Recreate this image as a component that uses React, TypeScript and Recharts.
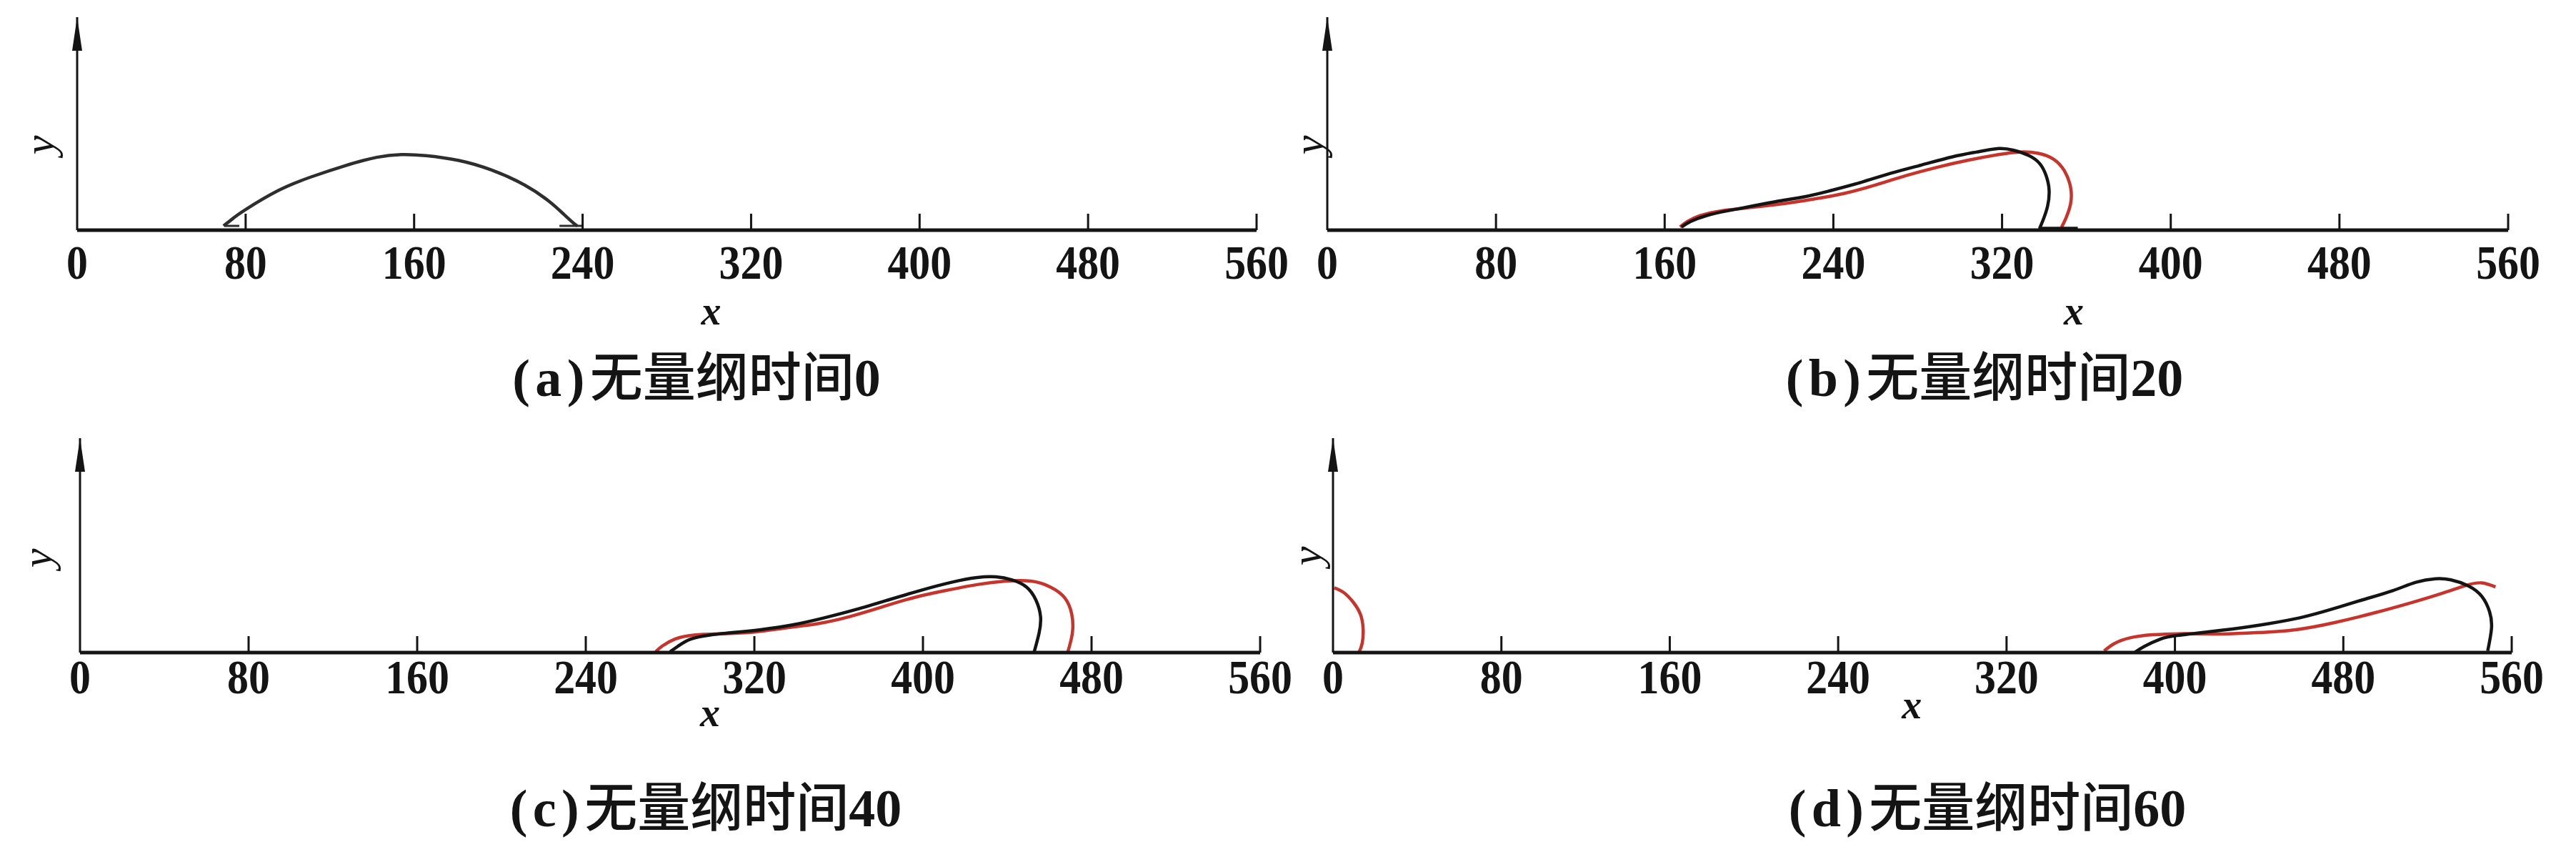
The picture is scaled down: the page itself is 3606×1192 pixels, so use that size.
import React from 'react'
import { LineChart, Line, XAxis, YAxis, ReferenceDot } from 'recharts'

type P = [number, number]

const X_TICKS = [0, 80, 160, 240, 320, 400, 480, 560]
const Y_MAX = 100
const TAGS = ['(a)', '(b)', '(c)', '(d)']
const TIMES = ['0', '20', '40', '60']
const TITLE_WORD = '无量纲时间'

// (a) t = 0 : initial cap
const arcA: P[] = [
  [69.5, 2], [74, 5.5], [79.9, 9.6], [95.5, 18.6], [111.1, 25], [126.7, 30.1], [142.2, 34.2],
  [153.9, 35.5], [165.6, 35], [181.2, 32.7], [196.8, 28.2], [212.4, 21.2], [224.1, 13.5],
  [231, 7.5], [235.8, 3.2], [237.5, 2],
]
const footA1: P[] = [[70, 2], [77, 2]]
const footA2: P[] = [[229, 2], [240, 2]]

// (b) t = 20
const blackB: P[] = [
  [168, 1.5], [172.4, 4.1], [179.7, 6.8], [189.9, 9.1], [201.6, 11.3], [213.2, 13.5], [226.4, 15.7],
  [238, 18.4], [252.6, 22.3], [267.2, 26.7], [281.8, 30.6], [296.4, 34.4], [308, 36.7], [318.3, 38.3],
  [325.5, 37.5], [332.8, 35], [338, 31.1], [340.9, 25.6], [342.3, 19], [341.6, 11.3], [339.4, 4.6],
  [338, 1.3],
]
const redB: P[] = [
  [167.3, 1.5], [170.9, 4.1], [176.8, 6.8], [187, 9.1], [201.6, 10.7], [216.2, 12.4], [230.7, 14.6],
  [245.3, 17.3], [259.9, 21.2], [274.5, 25.6], [289.1, 29.5], [303.7, 32.8], [318.3, 35.5],
  [328.5, 36.7], [337.2, 36.1], [344.5, 33.3], [349.6, 27.8], [352.5, 20.1], [352.5, 12.4],
  [350.3, 5.7], [348.2, 1.3],
]
const barB: P[] = [[337.2, 0.6], [355.9, 0.6]]

// (c) t = 40
const blackC: P[] = [
  [280, 0.4], [283.8, 3], [289.8, 6.3], [298.9, 8.2], [309.4, 9.3], [323, 10.7], [338.1, 12.9],
  [353.2, 16.2], [368.3, 20.1], [383.4, 24.5], [398.5, 28.9], [413.6, 32.8], [425.7, 35],
  [434.7, 35.3], [442.3, 33.9], [449.1, 30.6], [453.6, 24.5], [455.8, 16.8], [455.1, 9.1],
  [452.8, 0.4],
]
const redC: P[] = [
  [273.2, 0.4], [276.2, 3], [282.3, 6.3], [291.3, 8.2], [304.9, 8.8], [320, 9.6], [335.1, 11.5],
  [350.2, 13.5], [365.3, 16.8], [380.4, 21.2], [395.5, 25.6], [410.6, 28.9], [425.7, 31.7],
  [439.2, 33.3], [451.3, 33.3], [460.4, 30.6], [467.2, 25.6], [470.6, 17.9], [470.9, 9.1],
  [468.7, 0.2],
]

// (d) t = 60
const blackD: P[] = [
  [381.1, 0.2], [385.7, 3], [393.1, 6.3], [400.4, 7.9], [415.2, 9.6], [429.9, 11.3], [444.6, 13.5],
  [459.3, 16.2], [474.1, 20.1], [488.8, 24.5], [503.5, 28.9], [514.5, 32.8], [523.8, 34.4],
  [531.1, 33.9], [539.4, 31.1], [545.8, 26.2], [549.5, 19], [550.4, 11.3], [548.6, 0.8],
]
const redD: P[] = [
  [366.4, 0.8], [371, 4.1], [378.3, 6.8], [389.4, 8.3], [404.1, 8.8], [422.5, 8.7], [439.1, 9.3],
  [457.5, 10.7], [475.9, 14], [494.3, 18.4], [512.7, 23.4], [527.4, 27.8], [538.5, 31.4],
  [545.8, 32.5], [552.3, 30.6],
]
const redDWrap: P[] = [
  [0.6, 30.2], [5.1, 28], [9.6, 23.5], [13, 17.9], [14.3, 11.2], [13.9, 4.5], [12.4, 0.2],
]

const BLACK = '#141414'
const RED = '#c8342c'
const GREY = '#2e2e2e'

const pts = (arr: P[]) => arr.map(([x, y]) => ({ x, y }))

type Series = { data: P[]; color: string; width: number; curve: 'natural' | 'linear' }

const FULL_W = 3606
const H = 596
const XH = 100
const YW = 60
const SERIF = "'Liberation Serif', 'Times New Roman', serif"
const CJK = "'Noto Sans CJK SC', sans-serif"

const PANELS = [
  {
    top: 0, plot: { l: 108, r: 1759, t: 24, b: 322 },
    tickGap: 68, xLab: { at: 301, dy: 132 }, yLab: { dx: 53, at: 40 }, title: { cx: 975, cy: 522 },
    series: [
      { data: arcA, color: GREY, width: 4.5, curve: 'natural' },
      { data: footA1, color: GREY, width: 3, curve: 'linear' },
      { data: footA2, color: GREY, width: 3, curve: 'linear' },
    ] as Series[],
  },
  {
    top: 0, plot: { l: 1858, r: 3511, t: 24, b: 322 },
    tickGap: 68, xLab: { at: 354, dy: 132 }, yLab: { dx: 26, at: 40 }, title: { cx: 2778, cy: 522 },
    series: [
      { data: redB, color: RED, width: 4.5, curve: 'natural' },
      { data: blackB, color: BLACK, width: 4.5, curve: 'natural' },
      { data: barB, color: BLACK, width: 6, curve: 'linear' },
    ] as Series[],
  },
  {
    top: 596, plot: { l: 112, r: 1764, t: 613, b: 913 },
    tickGap: 57, xLab: { at: 299, dy: 103 }, yLab: { dx: 60, at: 44 }, title: { cx: 988, cy: 1124 },
    series: [
      { data: redC, color: RED, width: 4.5, curve: 'natural' },
      { data: blackC, color: BLACK, width: 4.5, curve: 'natural' },
    ] as Series[],
  },
  {
    top: 596, plot: { l: 1866, r: 3516, t: 613, b: 913 },
    tickGap: 57, xLab: { at: 275, dy: 92 }, yLab: { dx: 37, at: 45 }, title: { cx: 2782, cy: 1124 },
    series: [
      { data: redD, color: RED, width: 4.5, curve: 'natural' },
      { data: redDWrap, color: RED, width: 4.5, curve: 'natural' },
      { data: blackD, color: BLACK, width: 4.5, curve: 'natural' },
    ] as Series[],
  },
]

function XTick({ x, y, payload, gap }: any) {
  return (
    <g>
      {payload.value !== 0 && (
        <line x1={x} x2={x} y1={y - 23} y2={y} stroke={BLACK} strokeWidth={3} />
      )}
      <text transform={`translate(${x} ${y + gap}) scale(0.88 1)`} textAnchor="middle" fontFamily={SERIF}
        fontWeight="bold" fontSize={68} fill={BLACK}>
        {payload.value}
      </text>
    </g>
  )
}

function Arrow({ cx, cy }: any) {
  if (cx == null || cy == null) return null
  return <polygon points={`${cx},${cy} ${cx - 7},${cy + 47} ${cx + 7},${cy + 47}`} fill={BLACK} />
}

function YName({ cx, cy, dx }: any) {
  if (cx == null || cy == null) return null
  const x = cx - dx
  return (
    <text x={x} y={cy} transform={`rotate(-90 ${x} ${cy})`} textAnchor="middle" dominantBaseline="central"
      fontFamily={SERIF} fontStyle="italic" fontSize={60} fill={BLACK}>y</text>
  )
}

function XName({ viewBox, at, dy }: any) {
  if (!viewBox) return null
  const x = viewBox.x + (at / 560) * viewBox.width
  return (
    <text x={x} y={viewBox.y + dy} textAnchor="middle" fontFamily={SERIF} fontStyle="italic" fontWeight="bold"
      fontSize={56} fill={BLACK}>x</text>
  )
}

function Panel({ p, i }: { p: (typeof PANELS)[number]; i: number }) {
  const margin = {
    top: p.plot.t - p.top,
    left: p.plot.l - YW,
    right: FULL_W - p.plot.r,
    bottom: H - (p.plot.b - p.top) - XH,
  }
  return (
    <div style={{ position: 'absolute', left: 0, top: p.top, width: FULL_W, height: H }}>
      <LineChart width={FULL_W} height={H} margin={margin}>
        <XAxis
          type="number" dataKey="x" domain={[0, 560]} ticks={X_TICKS} interval={0}
          height={XH} tickSize={0} tickMargin={0} tickLine={false}
          axisLine={{ stroke: BLACK, strokeWidth: 5 }}
          tick={<XTick gap={p.tickGap} />}
          label={{ content: (props: any) => <XName {...props} at={p.xLab.at} dy={p.xLab.dy} /> }}
          allowDataOverflow
        />
        <YAxis
          type="number" dataKey="y" domain={[0, Y_MAX]} width={YW}
          tick={false} tickLine={false} axisLine={{ stroke: BLACK, strokeWidth: 3 }} allowDataOverflow
        />
        {p.series.map((s, k) => (
          <Line
            key={k} data={pts(s.data)} dataKey="y" type={s.curve} stroke={s.color} strokeWidth={s.width}
            dot={false} activeDot={false} isAnimationActive={false} strokeLinecap="butt"
          />
        ))}
        <ReferenceDot x={0} y={Y_MAX} r={1} ifOverflow="visible" shape={(props: any) => <Arrow {...props} />} />
        <ReferenceDot x={0} y={p.yLab.at} r={1} ifOverflow="visible"
          shape={(props: any) => <YName {...props} dx={p.yLab.dx} />} />
      </LineChart>
      <div
        style={{
          position: 'absolute', left: p.title.cx, top: p.title.cy - p.top,
          transform: 'translate(-50%, -50%)', whiteSpace: 'nowrap', fontSize: 74, lineHeight: '74px',
          height: 74, color: BLACK,
        }}
      >
        <span style={{ fontFamily: SERIF, fontWeight: 'bold', letterSpacing: '0.1em' }}>{TAGS[i]}</span>
        <span style={{ fontFamily: CJK, fontWeight: 500 }}>{TITLE_WORD}</span>
        <span style={{ fontFamily: SERIF, fontWeight: 'bold' }}>{TIMES[i]}</span>
      </div>
    </div>
  )
}

export default function App() {
  return (
    <div style={{ position: 'absolute', left: 0, top: 0, width: FULL_W, height: 1192, background: '#fff' }}>
      {PANELS.map((p, i) => (
        <Panel key={i} p={p} i={i} />
      ))}
    </div>
  )
}
